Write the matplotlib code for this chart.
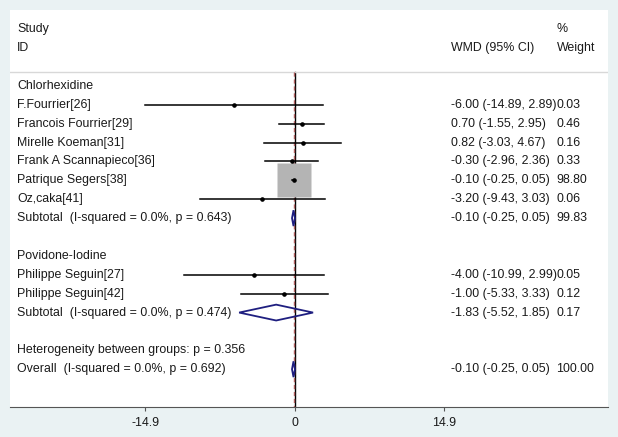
import matplotlib.pyplot as plt
from matplotlib.patches import Polygon

plt.rcParams['font.family'] = ['Liberation Sans', 'DejaVu Sans']

# rows from top to bottom (kind: 'head', 'study', 'sub', 'text', 'overall', 'blank')
labels = ["Chlorhexidine", "F.Fourrier[26]", "Francois Fourrier[29]", "Mirelle Koeman[31]",
          "Frank A Scannapieco[36]", "Patrique Segers[38]", "Oz,caka[41]",
          "Subtotal  (I-squared = 0.0%, p = 0.643)", "",
          "Povidone-Iodine", "Philippe Seguin[27]", "Philippe Seguin[42]",
          "Subtotal  (I-squared = 0.0%, p = 0.474)", "",
          "Heterogeneity between groups: p = 0.356", "Overall  (I-squared = 0.0%, p = 0.692)"]
kinds = ["head", "study", "study", "study", "study", "study", "study", "sub", "blank",
         "head", "study", "study", "sub", "blank", "text", "overall"]
est = [None, -6.00, 0.70, 0.82, -0.30, -0.10, -3.20, -0.10, None,
       None, -4.00, -1.00, -1.83, None, None, -0.10]
lo = [None, -14.89, -1.55, -3.03, -2.96, -0.25, -9.43, -0.25, None,
      None, -10.99, -5.33, -5.52, None, None, -0.25]
hi = [None, 2.89, 2.95, 4.67, 2.36, 0.05, 3.03, 0.05, None,
      None, 2.99, 3.33, 1.85, None, None, 0.05]
weights = [None, 0.03, 0.46, 0.16, 0.33, 98.80, 0.06, 99.83, None,
           None, 0.05, 0.12, 0.17, None, None, 100.00]
xticks = [-14.9, 0, 14.9]
overall_est = -0.10

fig = plt.figure(figsize=(6.18, 4.37), dpi=100, facecolor='#eaf2f3')
ax = fig.add_axes([10 / 618, 30 / 437, 598 / 618, 397 / 437])
ax.set_facecolor('white')
ax.set_xlim(-28.37, 31.26)
ax.set_ylim(17, -4.02)

fs = 8.9
txt_col = '#1a1a1a'
x_lab = -27.67
x_es = 15.65
x_w = 26.12

# header
ax.text(x_lab, -3, "Study", fontsize=fs, va='center', color=txt_col)
ax.text(x_lab, -2, "ID", fontsize=fs, va='center', color=txt_col)
ax.text(x_es, -2, "WMD (95% CI)", fontsize=fs, va='center', color=txt_col)
ax.text(x_w, -3, "%", fontsize=fs, va='center', color=txt_col)
ax.text(x_w, -2, "Weight", fontsize=fs, va='center', color=txt_col)
ax.axhline(-0.74, color='#d8d8d8', lw=1)

# null line and overall effect line
ax.plot([0, 0], [-0.74, 17], color='black', lw=1, zorder=1)
ax.plot([overall_est, overall_est], [-0.74, 17], color='#b06060', lw=1,
        dashes=(3, 2), zorder=2)

for i, lab in enumerate(labels):
    k = kinds[i]
    if lab:
        ax.text(x_lab, i, lab, fontsize=fs, va='center', color=txt_col)
    if k in ("study", "sub", "overall"):
        ax.text(x_es, i, f"{est[i]:.2f} ({lo[i]:.2f}, {hi[i]:.2f})",
                fontsize=fs, va='center', color=txt_col)
        ax.text(x_w, i, f"{weights[i]:.2f}", fontsize=fs, va='center', color=txt_col)
    if k == "study":
        ms = 24.5 * (weights[i] / 98.8) ** 0.5
        ax.plot(est[i], i, marker='s', ms=ms, color='#b4b4b4', mec='none', zorder=3)
        ax.plot([lo[i], hi[i]], [i, i], color='black', lw=1.1, zorder=4)
        ax.plot(est[i], i, marker='o', ms=2.3, color='black', zorder=5)
    elif k in ("sub", "overall"):
        h = 0.42
        d = Polygon([(lo[i], i), (est[i], i - h), (hi[i], i), (est[i], i + h)],
                    closed=True, fill=False, edgecolor='#1f1f80', lw=1.3, zorder=5)
        ax.add_patch(d)

for s in ['top', 'left', 'right']:
    ax.spines[s].set_visible(False)
ax.spines['bottom'].set_color('#555555')
ax.set_yticks([])
ax.set_xticks(xticks)
ax.set_xticklabels([f"{t:g}" for t in xticks])
ax.tick_params(axis='x', length=3, color='#555555', labelsize=fs, labelcolor=txt_col, pad=4)

fig.savefig('out.png', dpi=100, facecolor=fig.get_facecolor())
